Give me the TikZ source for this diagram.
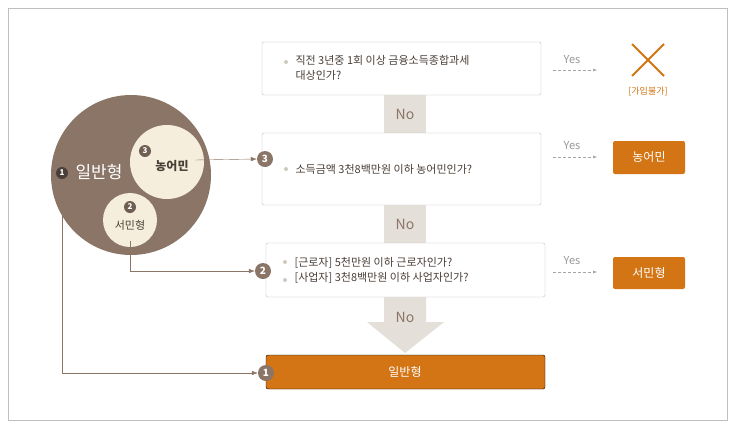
\documentclass[tikz,border=0pt]{standalone}
\usepackage{fontspec}
\setmainfont{Noto Sans CJK KR}
\usetikzlibrary{positioning,arrows.meta}
\definecolor{brownc}{HTML}{8B7567}
\definecolor{creamc}{HTML}{F6EEDC}
\definecolor{orangec}{HTML}{D47515}
\definecolor{barc}{HTML}{E4DFD8}
\definecolor{textc}{HTML}{4A3F38}
\definecolor{bulletc}{HTML}{CFC8BE}
\tikzset{
  qbox/.style={draw=black!25,rounded corners=2pt,fill=white,text=textc,font=\fontsize{11}{15}\selectfont},
  obox/.style={fill=orangec,rounded corners=2pt,text=white,font=\fontsize{12}{14}\selectfont},
  badge/.style={circle,fill=brownc,text=white,inner sep=0pt,minimum size=16pt,font=\bfseries\fontsize{10}{10}\selectfont},
  sbadge/.style={circle,fill=#1,text=white,inner sep=0pt,minimum size=12pt,font=\bfseries\fontsize{8}{8}\selectfont},
  nolabel/.style={text=brownc,font=\fontsize{14}{14}\selectfont},
  yeslabel/.style={text=black!40,font=\fontsize{11}{11}\selectfont},
  yesarrow/.style={draw=black!35,densely dashed,-{Latex[length=4pt]}},
  link/.style={draw=brownc,-{Latex[length=6pt]}},
  dotc/.style={circle,fill=bulletc,inner sep=0pt,minimum size=4pt}
}
\begin{document}
\begin{tikzpicture}[x=1pt,y=-1pt]
\useasboundingbox (0,0) rectangle (734,429);
\draw[black!25,fill=white] (8,8) rectangle (727,420);
% no bars
\fill[barc] (384,95) rectangle (426,133);
\fill[barc] (384,205) rectangle (426,243);
\fill[barc] (384,297) rectangle (426,322) -- (444,322) -- (405,353) -- (367,322) -- (384,322);
\node[nolabel] (no1) at (405,114) {No};
\node[nolabel] (no2) at (405,224) {No};
\node[nolabel] (no3) at (405,317) {No};
% questions
\draw[qbox] (262,42) rectangle (541,95);
\node[dotc] (d1) at (286,62) {};
\node[qbox,draw=none,fill=none,anchor=west,align=left] (q1) at (292,68) {직전 3년중 1회 이상 금융소득종합과세\\대상인가?};
\draw[qbox] (262,133) rectangle (541,205);
\node[dotc] (d2) at (286,169) {};
\node[qbox,draw=none,fill=none,anchor=west] (q2) at (292,169) {소득금액 3천8백만원 이하 농어민인가?};
\draw[qbox] (266,243) rectangle (545,297);
\node[dotc] (d3) at (285,262) {};
\node[dotc] (d4) at (285,280) {};
\node[qbox,draw=none,fill=none,anchor=west,align=left] (q3) at (291,270) {[근로자] 5천만원 이하 근로자인가?\\{}{[사업자]} 3천8백만원 이하 사업자인가?};
\draw[obox] (266,355) rectangle (545,389);
\node[text=white,font=\fontsize{12}{14}\selectfont] (general) at (405,372) {일반형};
% yes side
\node[yeslabel] (y1) at (572,60) {Yes};
\node[yeslabel] (y2) at (572,146) {Yes};
\node[yeslabel] (y3) at (572,261) {Yes};
\draw[yesarrow] (553,70) -- (597,70);
\draw[yesarrow] (553,157) -- (597,157);
\draw[yesarrow] (553,272) -- (597,272);
\draw[orangec,line width=2pt] (632,44) -- (664,76) (664,44) -- (632,76);
\node[text=orangec,font=\fontsize{9}{9}\selectfont] (deny) at (648,92) {[가입불가]};
\node[obox,minimum width=72pt,minimum height=33pt] (farm) at (649,157.5) {농어민};
\node[obox,minimum width=72pt,minimum height=32pt] (common) at (649,273) {서민형};
% circles
\fill[brownc] (131,175) circle (80);
\node[circle,fill=creamc,minimum size=74pt,inner sep=0pt] (cfarm) at (167,162) {};
\node[circle,fill=creamc,minimum size=54pt,inner sep=0pt] (ccommon) at (130,220) {};
\node[text=textc,font=\bfseries\fontsize{12}{12}\selectfont] (tfarm) at (172,166) {농어민};
\node[sbadge=brownc!80!black] (bfarm) at (145,151) {3};
\node[text=textc,font=\fontsize{11}{11}\selectfont] (tcommon) at (130,225) {서민형};
\node[sbadge=brownc!80!black] (bcommon) at (130,207) {2};
\node[sbadge=textc] (bgen) at (62,173) {1};
\node[text=white,font=\fontsize{17}{17}\selectfont,anchor=west] (tgen) at (72,172) {일반형};
% badges
\node[badge] (n3) at (265,159) {3};
\node[badge] (n2) at (263,271) {2};
\node[badge] (n1) at (266,373) {1};
% links
\draw[link] (195,160) -- (n3.west);
\draw[link] (130,241) |- (n2.west);
\draw[link] (bgen.south) |- (n1.west);
\end{tikzpicture}
\end{document}
